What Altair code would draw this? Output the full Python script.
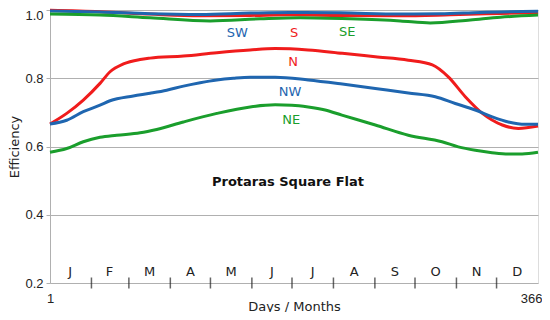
import altair as alt
import pandas as pd

# ---- data ----
n_days = [1, 13.5, 25.9, 38.4, 45.9, 55.9, 68.4, 75.8, 100.8, 125.8, 150.7, 169.4, 194, 219.6, 244.3, 269, 287, 298.9, 311.6, 324.4, 339.3, 351.3, 366]
n_vals = [0.666, 0.697, 0.736, 0.785, 0.819, 0.842, 0.855, 0.859, 0.865, 0.875, 0.883, 0.887, 0.883, 0.873, 0.863, 0.853, 0.839, 0.804, 0.746, 0.697, 0.663, 0.653, 0.660]

nw_days = [1, 13.5, 25.9, 38.4, 45.9, 63.3, 75.8, 88.3, 100.8, 113.3, 125.8, 138.2, 150.7, 169.4, 194.1, 219.6, 244.3, 269, 289.2, 304.1, 319.1, 331.8, 343.8, 356.5, 366]
nw_vals = [0.666, 0.677, 0.702, 0.721, 0.734, 0.748, 0.756, 0.765, 0.777, 0.787, 0.795, 0.800, 0.803, 0.803, 0.795, 0.783, 0.770, 0.757, 0.746, 0.726, 0.707, 0.687, 0.672, 0.665, 0.665]

ne_days = [1, 13.5, 25.9, 38.4, 50.9, 68.4, 80.8, 100.8, 125.8, 150.7, 169.4, 181.9, 194.1, 206.8, 219.3, 244.3, 269, 294.2, 306.4, 319.1, 331.6, 343.8, 354.1, 366]
ne_vals = [0.583, 0.594, 0.614, 0.627, 0.633, 0.640, 0.650, 0.672, 0.697, 0.716, 0.722, 0.721, 0.716, 0.707, 0.692, 0.663, 0.633, 0.614, 0.599, 0.589, 0.582, 0.578, 0.578, 0.583]

s_days = [1, 38.4, 75.8, 113.3, 150.7, 180.6, 218, 263, 300.4, 337.8, 366]
s_vals = [0.999, 0.995, 0.988, 0.983, 0.984, 0.986, 0.984, 0.983, 0.986, 0.990, 0.993]

sw_days = [1, 38.4, 75.8, 113.3, 150.7, 180.6, 218, 263, 292.9, 322.9, 366]
sw_vals = [0.997, 0.994, 0.989, 0.987, 0.991, 0.993, 0.992, 0.988, 0.989, 0.993, 0.996]

se_days = [1, 38.4, 75.8, 120.8, 158.2, 188.1, 225.5, 263, 285.4, 315.4, 337.8, 366]
se_vals = [0.988, 0.985, 0.977, 0.968, 0.974, 0.977, 0.974, 0.968, 0.962, 0.971, 0.979, 0.985]

series_names = ["N", "NW", "NE", "S", "SW", "SE"]
series_colors = ["#f01c1c", "#1f66b0", "#1a9e2c", "#f01c1c", "#1f66b0", "#1a9e2c"]

label_days = [182.9, 180.6, 181.4, 183.6, 141, 223.3]
label_vals = [0.847, 0.760, 0.677, 0.933, 0.933, 0.935]

month_letters = ["J", "F", "M", "A", "M", "J", "J", "A", "S", "O", "N", "D"]
month_mid_days = [16, 45.5, 75.5, 106, 136.5, 167, 197.5, 228.5, 259, 289.5, 320, 350.5]
month_bounds = [32, 60, 91, 121, 152, 182, 213, 244, 274, 305, 335]

title_text = "Protaras Square Flat"
title_day = 179
title_val = 0.496

# ---- build tables ----
rows = []
for name, d, v in [("N", n_days, n_vals), ("NW", nw_days, nw_vals), ("NE", ne_days, ne_vals),
                   ("S", s_days, s_vals), ("SW", sw_days, sw_vals), ("SE", se_days, se_vals)]:
    for i, (dd, vv) in enumerate(zip(d, v)):
        rows.append({"series": name, "day": dd, "eff": vv, "order": i})
df = pd.DataFrame(rows)
labels_df = pd.DataFrame({"series": series_names, "day": label_days, "eff": label_vals})
months_df = pd.DataFrame({"m": month_letters, "day": month_mid_days, "idx": list(range(12))})
bounds_df = pd.DataFrame({"day": month_bounds})
title_df = pd.DataFrame({"t": [title_text], "day": [title_day], "eff": [title_val]})

xscale = alt.Scale(domain=[1, 366], nice=False, zero=False)
yscale = alt.Scale(domain=[0.2, 1.0], nice=False, zero=False)
color_scale = alt.Scale(domain=series_names, range=series_colors)

x_enc = alt.X("day:Q", scale=xscale,
              axis=alt.Axis(values=[1, 366], ticks=False, grid=False, domain=False,
                            labelPadding=9, labelFontSize=13, labelColor="#222",
                            labelFont="Liberation Sans",
                            labelAlign=alt.condition("datum.value > 300", alt.value("right"), alt.value("center")),
                            labelOffset=alt.condition("datum.value > 300", alt.value(4), alt.value(0)),
                            title="Days / Months",
                            titleFont="DejaVu Sans", titleFontSize=13, titleFontWeight="normal",
                            titleColor="#222", titleBaseline="alphabetic", titleY=27))
y_enc = alt.Y("eff:Q", scale=yscale,
              axis=alt.Axis(values=[0.2, 0.4, 0.6, 0.8, 1.0], format=".1f", grid=True,
                            gridColor="#b0b0b0", gridWidth=1, domainColor="#b0b0b0",
                            tickColor="#b0b0b0", tickSize=4, labelPadding=3,
                            labelFontSize=13, labelColor="#222", labelFont="Liberation Sans",
                            labelOffset=alt.condition("datum.value > 0.9", alt.value(5), alt.value(0)),
                            title="Efficiency", titleFont="DejaVu Sans", titleFontSize=13,
                            titleFontWeight="normal", titleColor="#222",
                            titleBaseline="bottom", titleX=-29))

lines = alt.Chart(df).mark_line(strokeWidth=3, interpolate="monotone").encode(
    x=x_enc, y=y_enc,
    color=alt.Color("series:N", scale=color_scale, legend=None),
    detail="series:N",
    order="order:Q",
)

line_labels = alt.Chart(labels_df).mark_text(font="DejaVu Sans", fontSize=13, baseline="middle").encode(
    x=alt.X("day:Q", scale=xscale), y=alt.Y("eff:Q", scale=yscale),
    text="series:N",
    color=alt.Color("series:N", scale=color_scale, legend=None),
)

ticks = alt.Chart(bounds_df).mark_tick(orient="vertical", size=11, thickness=1.5, color="#222").encode(
    x=alt.X("day:Q", scale=xscale), y=alt.datum(0.2, scale=yscale),
)

month_text = alt.Chart(months_df).mark_text(font="DejaVu Sans", fontSize=13, color="#222", baseline="middle", dy=-11).encode(
    x=alt.X("day:Q", scale=xscale), y=alt.datum(0.2, scale=yscale), text="m:N",
)

title_mark = alt.Chart(title_df).mark_text(font="DejaVu Sans", fontSize=13, fontWeight="bold", color="#111", baseline="middle").encode(
    x=alt.X("day:Q", scale=xscale), y=alt.Y("eff:Q", scale=yscale), text="t:N",
)

chart = alt.layer(lines, line_labels, month_text, title_mark, ticks).properties(
    width=488, height=273,
    autosize=alt.AutoSizeParams(type="none"),
    padding={"left": 42, "top": 2, "right": 4, "bottom": 29},
).configure_view(stroke="#b0b0b0", strokeWidth=1).configure(background="white")

chart.save("out.html", embed_options={"renderer": "svg", "actions": False})
